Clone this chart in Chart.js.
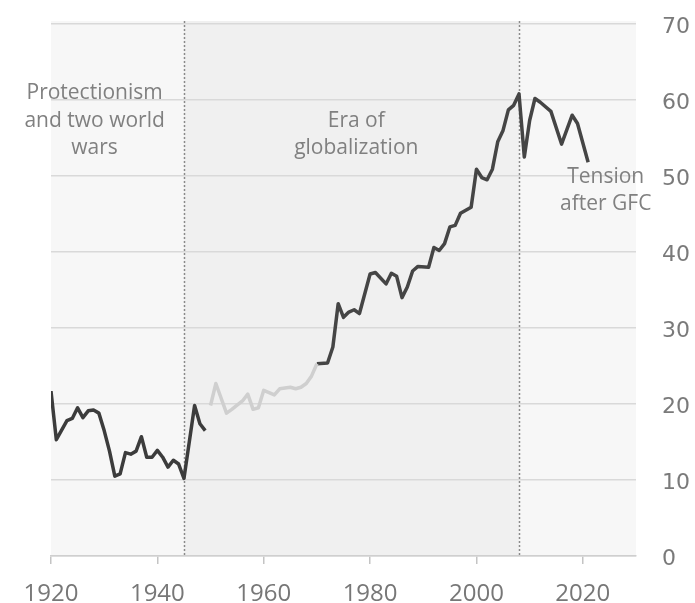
<!DOCTYPE html>
<html>
<head>
<meta charset="utf-8">
<script src="https://cdn.jsdelivr.net/npm/chart.js@4.4.1/dist/chart.umd.min.js"></script>
<style>
  body { margin: 0; background: #fff; }
  #wrap { width: 695px; height: 603px; }
</style>
</head>
<body>
<div id="wrap"><canvas id="chart" width="695" height="603"></canvas></div>
<script>
// Data (share of trade, %)
const protectYears = [1920, 1921, 1923, 1924, 1925, 1926, 1927, 1928, 1929, 1930, 1931, 1932, 1933, 1934, 1935, 1936, 1937, 1938, 1939, 1940, 1941, 1942, 1943, 1944, 1945, 1947, 1948, 1949];
const protectValues = [21.7, 15.3, 17.8, 18.1, 19.5, 18.2, 19.1, 19.2, 18.8, 16.5, 13.8, 10.5, 10.8, 13.6, 13.4, 13.8, 15.7, 13.0, 13.0, 13.9, 13.0, 11.7, 12.6, 12.1, 10.2, 19.8, 17.4, 16.5];

const gapYears = [1950, 1951, 1953, 1954, 1956, 1957, 1958, 1959, 1960, 1962, 1963, 1965, 1966, 1967, 1968, 1969, 1970];
const gapValues = [19.8, 22.7, 18.8, 19.3, 20.4, 21.3, 19.3, 19.5, 21.8, 21.2, 22.0, 22.2, 22.0, 22.2, 22.7, 23.7, 25.3];

const globalYears = [1970, 1972, 1973, 1974, 1975, 1976, 1977, 1978, 1980, 1981, 1983, 1984, 1985, 1986, 1987, 1988, 1989, 1991, 1992, 1993, 1994, 1995, 1996, 1997, 1999, 2000, 2001, 2002, 2003, 2004, 2005, 2006, 2007, 2008, 2009, 2010, 2011, 2012, 2014, 2016, 2018, 2019, 2021];
const globalValues = [25.3, 25.4, 27.5, 33.2, 31.4, 32.1, 32.4, 31.9, 37.1, 37.3, 35.8, 37.2, 36.8, 34.0, 35.4, 37.5, 38.1, 38.0, 40.6, 40.2, 41.1, 43.3, 43.5, 45.1, 45.9, 50.9, 49.8, 49.5, 50.9, 54.5, 56.0, 58.7, 59.3, 60.8, 52.5, 57.3, 60.2, 59.7, 58.5, 54.2, 58.0, 56.9, 51.8];

const tickYears = [1920, 1940, 1960, 1980, 2000, 2020];
const eraBreaks = [1945, 2008];

// era labels: text lines and where they sit (year, value)
const eraLabels = [
  { lines: ['Protectionism', 'and two world', 'wars'], x: 1928.2, y: 60.9 },
  { lines: ['Era of', 'globalization'], x: 1977.4, y: 57.3 },
  { lines: ['Tension', 'after GFC'], x: 2024.3, y: 49.9 }
];

function toPoints(xs, ys) {
  return xs.map((x, i) => ({ x: x, y: ys[i] }));
}

// shaded eras and dotted dividers
const eraPlugin = {
  id: 'eras',
  beforeDraw(chart) {
    const { ctx, chartArea, scales } = chart;
    const x1 = scales.x.getPixelForValue(eraBreaks[0]);
    const x2 = scales.x.getPixelForValue(eraBreaks[1]);
    const top = chartArea.top - 3;
    const h = chartArea.bottom - top;
    ctx.save();
    ctx.fillStyle = '#f7f7f7';
    ctx.fillRect(chartArea.left, top, chartArea.right - chartArea.left, h);
    ctx.fillStyle = '#f0f0f0';
    ctx.fillRect(x1, top, x2 - x1, h);
    ctx.restore();
  },
  beforeDatasetsDraw(chart) {
    const { ctx, chartArea, scales } = chart;
    ctx.save();
    ctx.strokeStyle = '#8a8a8a';
    ctx.lineWidth = 1.5;
    ctx.setLineDash([2, 2]);
    eraBreaks.forEach(yr => {
      const x = Math.round(scales.x.getPixelForValue(yr)) + 0.5;
      ctx.beginPath();
      ctx.moveTo(x, chartArea.top - 3);
      ctx.lineTo(x, chartArea.bottom);
      ctx.stroke();
    });
    ctx.restore();
  },
  afterDraw(chart) {
    const { ctx, scales } = chart;
    ctx.save();
    ctx.fillStyle = '#808080';
    ctx.font = '21px "Open Sans"';
    ctx.textAlign = 'center';
    ctx.textBaseline = 'middle';
    eraLabels.forEach(lbl => {
      const cx = scales.x.getPixelForValue(lbl.x);
      const cy = scales.y.getPixelForValue(lbl.y);
      lbl.lines.forEach((line, i) => {
        ctx.fillText(line, cx, cy + i * 27.5);
      });
    });
    ctx.restore();
  }
};

function lineSet(data, color) {
  return {
    data: data,
    borderColor: color,
    borderWidth: 3.5,
    pointRadius: 0,
    tension: 0,
    borderJoinStyle: 'round',
    fill: false
  };
}

new Chart(document.getElementById('chart'), {
  type: 'line',
  data: {
    datasets: [
      lineSet(toPoints(protectYears, protectValues), '#3c3c3c'),
      lineSet(toPoints(gapYears, gapValues), '#cfcfcf'),
      lineSet(toPoints(globalYears, globalValues), '#454545')
    ]
  },
  options: {
    responsive: false,
    animation: false,
    layout: { padding: { left: 51, top: 24, right: 0, bottom: 0 } },
    plugins: { legend: { display: false }, tooltip: { enabled: false } },
    scales: {
      x: {
        type: 'linear',
        min: 1920,
        max: 2030,
        afterBuildTicks: scale => { scale.ticks = tickYears.map(v => ({ value: v })); },
        afterFit: scale => { scale.height = 47; },
        grid: { drawOnChartArea: false, drawTicks: true, tickLength: 8, color: '#c4c4c4', lineWidth: 1.5 },
        border: { display: true, color: '#cfcfcf', width: 1.5 },
        ticks: {
          padding: 16,
          color: '#777',
          font: { family: 'Open Sans', size: 24 },
          maxRotation: 0,
          callback: v => String(v)
        }
      },
      y: {
        position: 'right',
        min: 0,
        max: 70,
        afterFit: scale => { scale.width = 59; },
        grid: { color: '#d9d9d9', lineWidth: 1.5, drawTicks: true, tickLength: 24, tickColor: 'rgba(0,0,0,0)' },
        border: { display: false },
        ticks: {
          stepSize: 10,
          padding: 2,
          labelOffset: 3,
          color: '#7a7a7a',
          font: { family: 'DejaVu Sans', size: 22 }
        }
      }
    }
  },
  plugins: [eraPlugin]
});
</script>
</body>
</html>
